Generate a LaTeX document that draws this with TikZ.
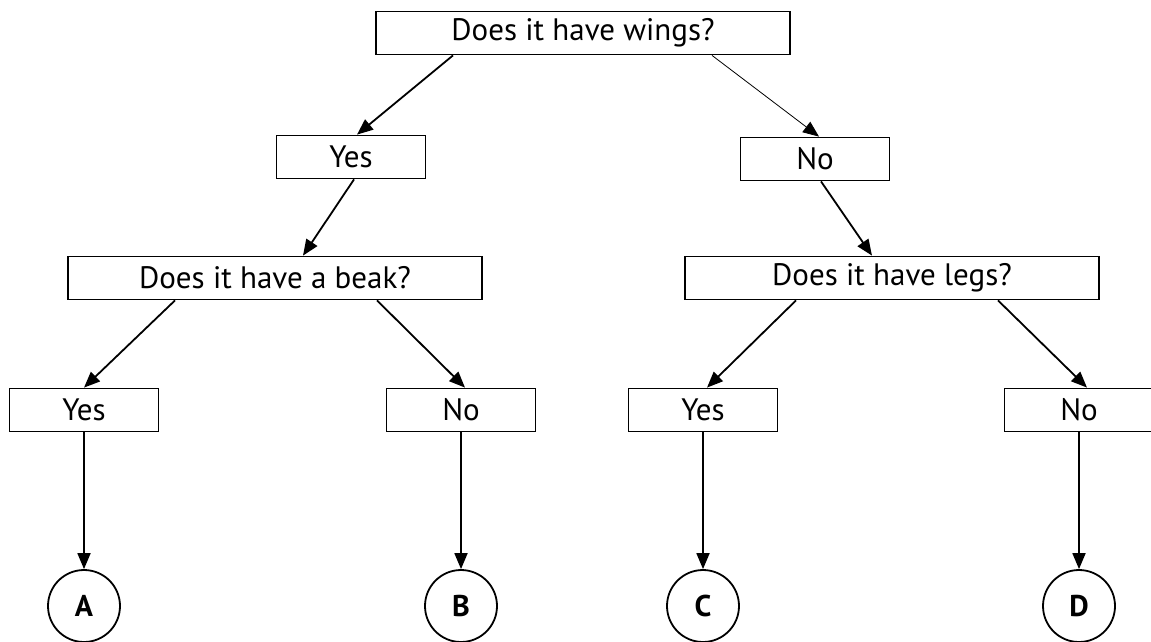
\documentclass[tikz,border=0pt]{standalone}
\usepackage{fontspec}
\setmainfont{PT Sans}
\usetikzlibrary{ % tikz packages
    positioning,
    arrows.meta
}
\tikzset{
    question/.style={draw, line width=1.8pt, minimum width=414pt, minimum height=43pt, inner sep=0pt, font=\fontsize{31}{34}\selectfont},
    answer/.style={draw, line width=1.8pt, minimum width=149pt, minimum height=43pt, inner sep=0pt, font=\fontsize{31}{34}\selectfont},
    animal/.style={draw, circle, line width=1.8pt, minimum size=72pt, inner sep=0pt, font=\fontsize{30}{34}\selectfont\bfseries},
    link/.style={-{Triangle[length=16pt,width=13pt]}, line width=1.8pt}
}

\begin{document}
\begin{tikzpicture}[x=1pt,y=-1pt,node distance=196pt,on grid]
            \clip (0,0) rectangle (1151,641);
            \node[question] (wings) at (583,33) {Does it have wings?};
            \node[answer] (wyes) at (351,157) {Yes};
            \node[answer] (wno) at (815,159) {No};
            \node[question] (beak) at (275,278) {Does it have a beak?};
            \node[question] (legs) at (892,278) {Does it have legs?};
            \node[answer] (byes) at (84,410) {Yes};
            \node[answer] (bno) at (461,410) {No};
            \node[answer] (lyes) at (703,410) {Yes};
            \node[answer] (lno) at (1079,410) {No};
            \node[animal] (a) [below=of byes] {A};
            \node[animal] (b) [below=of bno] {B};
            \node[animal] (c) [below=of lyes] {C};
            \node[animal] (d) [below=of lno] {D};

            \draw[link] ([xshift=-130pt]wings.south) -- ([xshift=6pt]wyes.north);
            \draw[link, line width=0.8pt] ([xshift=129pt]wings.south) -- ([xshift=4pt]wno.north);
            \draw[link] ([xshift=3pt]wyes.south) -- ([xshift=28pt]beak.north);
            \draw[link] ([xshift=6pt]wno.south) -- ([xshift=-20pt]legs.north);
            \draw[link] ([xshift=-100pt]beak.south) -- (byes.north);
            \draw[link] ([xshift=102pt]beak.south) -- ([xshift=4pt]bno.north);
            \draw[link] ([xshift=-96pt]legs.south) -- ([xshift=4pt]lyes.north);
            \draw[link] ([xshift=106pt]legs.south) -- ([xshift=8pt]lno.north);
            \draw[link] (byes) -- (a);
            \draw[link] (bno) -- (b);
            \draw[link] (lyes) -- (c);
            \draw[link] (lno) -- (d);
        \end{tikzpicture}
\end{document}
